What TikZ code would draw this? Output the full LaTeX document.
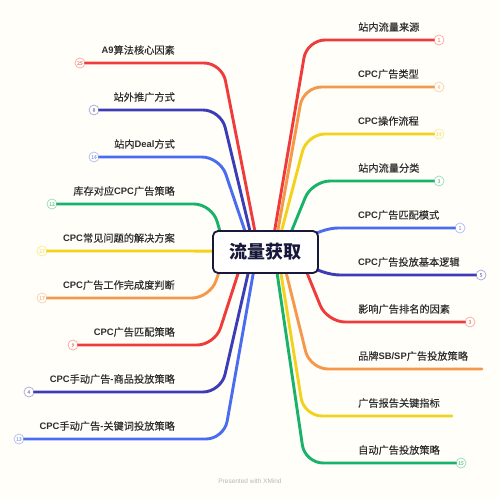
\documentclass[tikz,border=0pt]{standalone}
\usepackage{fontspec}
\setmainfont{Noto Sans CJK SC}[FakeBold=0.25]
\newfontfamily\titlefont{Noto Sans CJK SC}
\newfontfamily\latfont{Liberation Sans}[Scale=0.92]
\newfontfamily\wmfont{Liberation Sans}
\newcommand\lt[1]{{\latfont\bfseries #1}}
\definecolor{cRed}{HTML}{EF3B3B}
\definecolor{cOrange}{HTML}{F5984A}
\definecolor{cYellow}{HTML}{F2D21C}
\definecolor{cGreen}{HTML}{18B26B}
\definecolor{cBlue}{HTML}{4A6CF0}
\definecolor{cIndigo}{HTML}{3C3CB6}
\definecolor{cText}{HTML}{2E2E2E}
\definecolor{cNavy}{HTML}{18183A}
\definecolor{cBg}{HTML}{FFFEF9}
\tikzset{
  branch/.style={line width=2.9pt, rounded corners=18pt, line cap=round},
  badge/.style={circle, draw=#1!45!white, fill=cBg, line width=0.7pt, minimum size=10pt,
    inner sep=0pt, text=#1!55!white, font=\fontsize{5}{5}\selectfont},
  rlabel/.style={anchor=west, inner sep=0pt, text=cText, font=\fontsize{10.2}{11}\selectfont},
  llabel/.style={anchor=east, inner sep=0pt, text=cText, font=\fontsize{10.2}{11}\selectfont},
  centerbox/.style={draw=cNavy, fill=white, line width=1.8pt, rounded corners=5pt,
    minimum width=105pt, minimum height=42pt, inner sep=0pt, text=cNavy,
    font=\titlefont\fontsize{18}{20}\selectfont\bfseries}
}
% right branch with badge: name, color, Sx, Kx, y, badgeX, num, label
\newcommand\RB[8]{%
  \coordinate (#1-s) at (#3,252);
  \coordinate (#1-k) at (#4,#5);
  \node[badge=#2] (#1-b) at (#6,#5) {#7};
  \draw[branch,#2] (#1-s) -- (#1-k) -- (#1-b.west);
  \node[rlabel] (#1-t) at (358,#5-13) {#8};}
% right branch without badge
\newcommand\RN[7]{%
  \coordinate (#1-s) at (#3,252);
  \coordinate (#1-k) at (#4,#5);
  \coordinate (#1-e) at (#6,#5);
  \draw[branch,#2] (#1-s) -- (#1-k) -- (#1-e);
  \node[rlabel] (#1-t) at (358,#5-13) {#7};}
% left branch with badge
\newcommand\LB[8]{%
  \coordinate (#1-s) at (#3,252);
  \coordinate (#1-k) at (#4,#5);
  \node[badge=#2] (#1-b) at (#6,#5) {#7};
  \draw[branch,#2] (#1-s) -- (#1-k) -- (#1-b.east);
  \node[llabel] (#1-t) at (175,#5-13) {#8};}
\begin{document}
\begin{tikzpicture}[x=1pt,y=-1pt]
\fill[cBg] (0,0) rectangle (500,498);
\useasboundingbox (0,0) rectangle (500,498);
% right side
\RB{r1}{cRed}{271}{307}{40}{439}{1}{站内流量来源}
\RB{r2}{cOrange}{274}{303.5}{87}{439}{6}{\lt{CPC}广告类型}
\RB{r3}{cYellow}{276}{307}{134}{439}{10}{\lt{CPC}操作流程}
\RB{r4}{cGreen}{283}{312}{181}{439}{3}{站内流量分类}
\RB{r5}{cBlue}{290}{320}{228}{460}{1}{\lt{CPC}广告匹配模式}
\RB{r6}{cIndigo}{290}{322}{275}{481}{5}{\lt{CPC}广告投放基本逻辑}
\RB{r7}{cRed}{298.5}{327}{322}{470}{3}{影响广告排名的因素}
\RN{r8}{cOrange}{281}{310}{369}{482}{品牌\lt{SB/SP}广告投放策略}
\RN{r9}{cYellow}{277.5}{304}{416}{452}{广告报告关键指标}
\RB{r10}{cGreen}{274}{305}{463}{461}{15}{自动广告投放策略}
% left side
\LB{l1}{cRed}{259}{222}{63}{80}{25}{\lt{A9}算法核心因素}
\LB{l2}{cIndigo}{255}{221}{110}{94}{8}{站外推广方式}
\LB{l3}{cBlue}{252}{220}{157}{94}{16}{站内\lt{Deal}方式}
\LB{l4}{cGreen}{226}{212}{204}{52}{12}{库存对应\lt{CPC}广告策略}
\LB{l5}{cYellow}{265}{200}{251}{42}{27}{\lt{CPC}常见问题的解决方案}
\LB{l6}{cOrange}{226}{210}{298}{42}{17}{\lt{CPC}广告工作完成度判断}
\LB{l7}{cRed}{245}{215}{345}{73}{9}{\lt{CPC}广告匹配策略}
\LB{l8}{cIndigo}{253}{221}{392}{29}{4}{\lt{CPC}手动广告\lt{-}商品投放策略}
\LB{l9}{cBlue}{257}{224}{439}{19}{13}{\lt{CPC}手动广告\lt{-}关键词投放策略}
% center
\node[centerbox] (root) at (265.5,252) {流量获取};
% watermark
\node[inner sep=0pt, text=black!28, font=\wmfont\fontsize{6.5}{7}\selectfont] (wm) at (250,481) {Presented with XMind};
\end{tikzpicture}
\end{document}
